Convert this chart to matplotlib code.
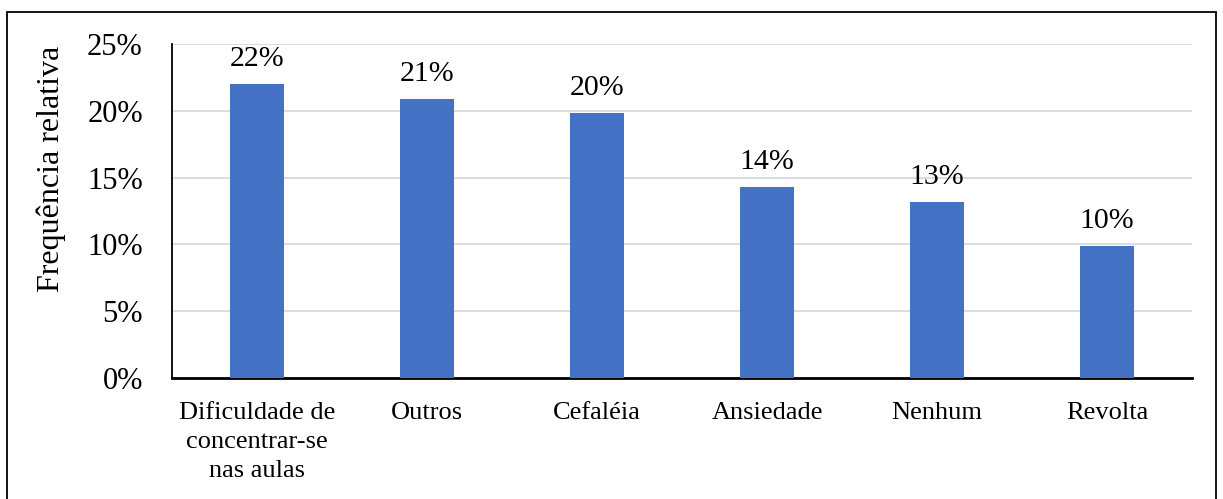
import numpy as np
import matplotlib.pyplot as plt
from matplotlib.patches import Rectangle
from matplotlib.ticker import PercentFormatter

categories = ["Dificuldade de\nconcentrar-se\nnas aulas", "Outros", "Cefaléia",
              "Ansiedade", "Nenhum", "Revolta"]
values = [21.99, 20.87, 19.82, 14.29, 13.16, 9.87]
labels = ["22%", "21%", "20%", "14%", "13%", "10%"]

plt.rcParams['font.family'] = ['Liberation Serif', 'DejaVu Serif']

W, H = 1223, 499
fig = plt.figure(figsize=(W / 100, H / 100), dpi=100)
ax = fig.add_axes([172 / W, 1 - 378 / H, (1192 - 172) / W, (378 - 44) / H])

x = np.arange(len(categories))
ax.bar(x, values, width=0.32, color='#4472c4', zorder=3)
for xi, v, lab in zip(x, values, labels):
    ax.annotate(lab, (xi, v), xytext=(0, 9), textcoords='offset points',
                ha='center', va='bottom', fontsize=21.5)

ax.set_xlim(-0.5, len(categories) - 0.5)
ax.set_ylim(0, 25)
ax.set_yticks(np.arange(0, 26, 5))
ax.yaxis.set_major_formatter(PercentFormatter(decimals=0))
ax.set_xticks(x)
ax.set_xticklabels(categories, fontsize=19, linespacing=1.42)
ax.tick_params(axis='y', labelsize=22, length=0, pad=21)
ax.tick_params(axis='x', length=0, pad=17)
ax.grid(axis='y', color='#d9d9d9', linewidth=1.3, zorder=0)
ax.set_ylabel("Frequência relativa", fontsize=23)
ax.yaxis.set_label_coords(-0.104, 0.625)

for s in ['top', 'right']:
    ax.spines[s].set_visible(False)
ax.spines['left'].set_linewidth(1.3)
ax.spines['bottom'].set_linewidth(2)

fig.patches.append(Rectangle((7 / W, -0.1), (1216 - 7) / W, 1.1 - 12 / H,
                             transform=fig.transFigure, fill=False,
                             edgecolor='black', linewidth=1.3))

fig.savefig('out.png', dpi=100)
